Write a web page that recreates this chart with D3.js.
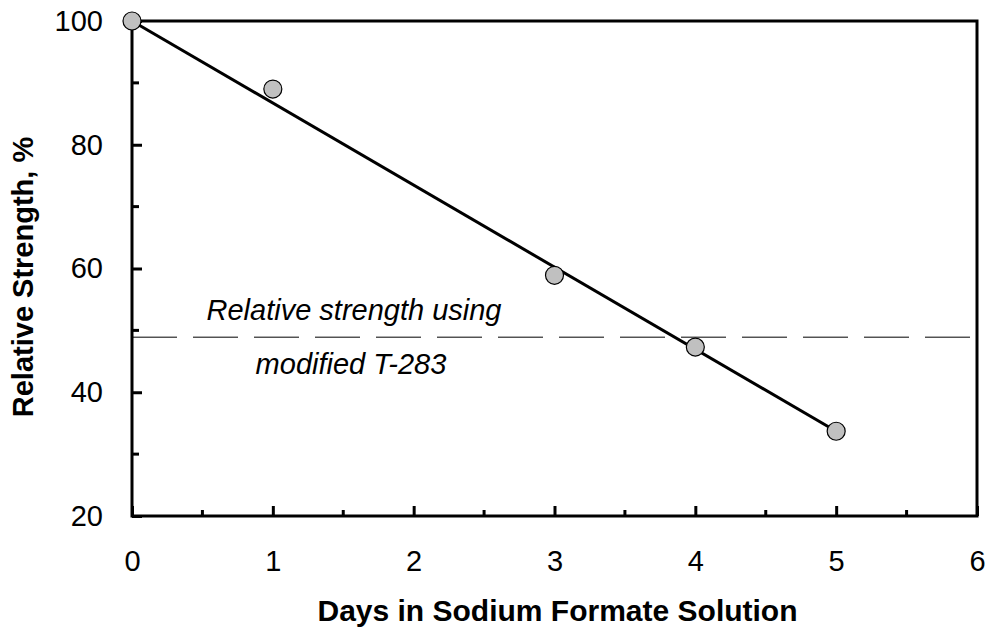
<!DOCTYPE html>
<html>
<head>
<meta charset="utf-8">
<script src="https://cdn.jsdelivr.net/npm/d3@7"></script>
<style>
  body { margin: 0; background: #fff; }
  text { font-family: "Liberation Sans", Arial, sans-serif; }
</style>
</head>
<body>
<div id="wrapper"></div>
<script>
// data
const days = [0, 1, 3, 4, 5];
const strength = [100, 89, 58.9, 47.3, 33.7];
const trendDays = [0, 5];
const trendStrength = [100, 33.7];
const referenceStrength = 48.9;
const xTicks = [0, 1, 2, 3, 4, 5, 6];
const yTicks = [20, 40, 60, 80, 100];
const xMinorTicks = [0.5, 1.5, 2.5, 3.5, 4.5, 5.5];
const yMinorTicks = [30, 50, 70, 90];
const noteLines = ["Relative strength using", "modified T-283"];

const dimensions = {
  width: 989,
  height: 629,
  margin: { top: 21, right: 12, bottom: 113, left: 132 },
};
dimensions.boundedWidth =
  dimensions.width - dimensions.margin.left - dimensions.margin.right;
dimensions.boundedHeight =
  dimensions.height - dimensions.margin.top - dimensions.margin.bottom;

const wrapper = d3
  .select("#wrapper")
  .append("svg")
  .attr("width", dimensions.width)
  .attr("height", dimensions.height);

const bounds = wrapper
  .append("g")
  .attr("transform", `translate(${dimensions.margin.left},${dimensions.margin.top})`);

const xScale = d3.scaleLinear().domain([0, 6]).range([0, dimensions.boundedWidth]);
const yScale = d3.scaleLinear().domain([20, 100]).range([dimensions.boundedHeight, 0]);

// reference (dashed) line
bounds
  .append("line")
  .attr("x1", 0)
  .attr("x2", dimensions.boundedWidth)
  .attr("y1", yScale(referenceStrength))
  .attr("y2", yScale(referenceStrength))
  .attr("stroke", "#000")
  .attr("stroke-width", 1)
  .attr("stroke-dasharray", "45 16");

// note text
const note = bounds
  .append("g")
  .attr("font-style", "italic")
  .attr("font-size", 29)
  .attr("text-anchor", "middle");
note
  .append("text")
  .attr("x", 222)
  .attr("y", yScale(referenceStrength) - 17)
  .text(noteLines[0]);
note
  .append("text")
  .attr("x", 219)
  .attr("y", yScale(referenceStrength) + 37)
  .text(noteLines[1]);

// axes: ticks point inward
const xAxis = bounds
  .append("g")
  .attr("transform", `translate(0,${dimensions.boundedHeight})`)
  .call(d3.axisBottom(xScale).tickValues(xTicks).tickSize(-10).tickPadding(34).tickFormat(d3.format("d")));
xAxis.append("g")
  .selectAll("line")
  .data(xMinorTicks)
  .join("line")
  .attr("x1", (d) => xScale(d))
  .attr("x2", (d) => xScale(d))
  .attr("y1", 0)
  .attr("y2", -6);

const yAxis = bounds
  .append("g")
  .call(d3.axisLeft(yScale).tickValues(yTicks).tickSize(-10).tickPadding(29).tickFormat(d3.format("d")));
yAxis.append("g")
  .selectAll("line")
  .data(yMinorTicks)
  .join("line")
  .attr("x1", 0)
  .attr("x2", 7)
  .attr("y1", (d) => yScale(d))
  .attr("y2", (d) => yScale(d));

[xAxis, yAxis].forEach((axis) => {
  axis.select(".domain").remove();
  axis.selectAll("line").attr("stroke", "#000").attr("stroke-width", 3);
  axis.selectAll("text")
    .attr("font-size", 29)
    .attr("font-family", "'Liberation Sans', Arial, sans-serif")
    .attr("fill", "#000");
});

// frame
bounds
  .append("rect")
  .attr("width", dimensions.boundedWidth)
  .attr("height", dimensions.boundedHeight)
  .attr("fill", "none")
  .attr("stroke", "#000")
  .attr("stroke-width", 3);

// trend line
const lineGenerator = d3
  .line()
  .x((d) => xScale(d[0]))
  .y((d) => yScale(d[1]));
bounds
  .append("path")
  .attr("d", lineGenerator(d3.zip(trendDays, trendStrength)))
  .attr("fill", "none")
  .attr("stroke", "#000")
  .attr("stroke-width", 3);

// points
bounds
  .append("g")
  .selectAll("circle")
  .data(d3.zip(days, strength))
  .join("circle")
  .attr("cx", (d) => xScale(d[0]))
  .attr("cy", (d) => yScale(d[1]))
  .attr("r", 9)
  .attr("fill", "#c0c0c0")
  .attr("stroke", "#000")
  .attr("stroke-width", 1.2);

// axis titles
wrapper
  .append("text")
  .attr("x", dimensions.margin.left + dimensions.boundedWidth / 2 + 3)
  .attr("y", 621)
  .attr("text-anchor", "middle")
  .attr("font-weight", "bold")
  .attr("font-size", 30)
  .text("Days in Sodium Formate Solution");

wrapper
  .append("text")
  .attr("transform", "translate(33,277) rotate(-90)")
  .attr("text-anchor", "middle")
  .attr("font-weight", "bold")
  .attr("font-size", 29)
  .text("Relative Strength, %");
</script>
</body>
</html>
